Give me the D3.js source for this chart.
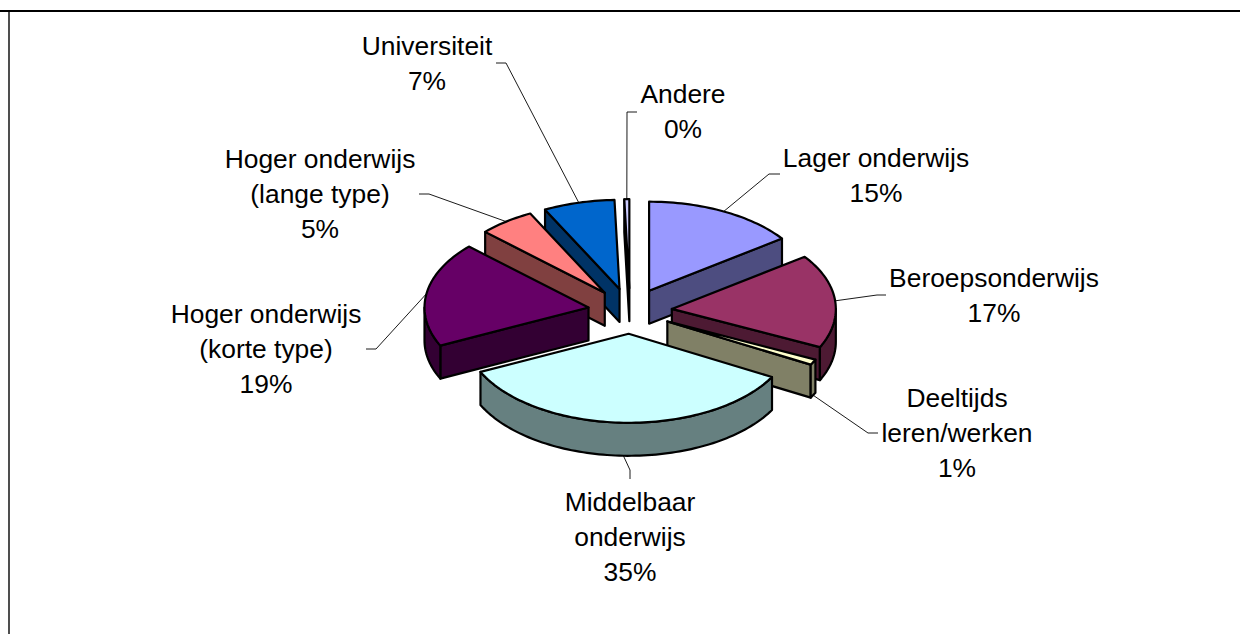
<!DOCTYPE html>
<html>
<head>
<meta charset="utf-8">
<script src="https://cdnjs.cloudflare.com/ajax/libs/d3/7.8.5/d3.min.js"></script>
<style>
  html, body { margin: 0; padding: 0; background: #fff; }
  svg { display: block; }
  text { font-family: "Liberation Sans", Arial, sans-serif; font-size: 26.4px; fill: #000; }
</style>
</head>
<body>
<svg></svg>
<script>
const categories = ['Lager onderwijs', 'Beroepsonderwijs', 'Deeltijds leren/werken', 'Middelbaar onderwijs',
  'Hoger onderwijs (korte type)', 'Hoger onderwijs (lange type)', 'Universiteit', 'Andere'];
const shares = [15.0, 17.0, 1.0, 34.8, 19.0, 5.49, 7.0, 0.49];
const labelLines = [
  ['Lager onderwijs'],
  ['Beroepsonderwijs'],
  ['Deeltijds', 'leren/werken'],
  ['Middelbaar', 'onderwijs'],
  ['Hoger onderwijs', '(korte type)'],
  ['Hoger onderwijs', '(lange type)'],
  ['Universiteit'],
  ['Andere']
];
const palette = ['#9999ff', '#993366', '#ffffcc', '#ccffff', '#660066', '#ff8080', '#0066cc', '#ccccff'];

// where each label sits: centre x, first baseline, then the elbow and the free end of its leader
const labelPos = [
  { x: 876, y: 167, elbow: [769, 174], end: [780, 174] },
  { x: 994, y: 287, elbow: [877, 295], end: [886, 295] },
  { x: 957, y: 407, elbow: [868, 433], end: [878, 433] },
  { x: 630, y: 511, elbow: [630, 470], end: [630, 479] },
  { x: 266, y: 323, elbow: [376, 349], end: [366, 349] },
  { x: 320, y: 168, elbow: [429, 194], end: [419, 194] },
  { x: 427, y: 55, elbow: [506, 63], end: [496, 63] },
  { x: 683, y: 103, elbow: [627, 112], end: [637, 112] }
];
const drawOrder = [7, 6, 5, 0, 4, 1, 2, 3];

const width = 1240,
    height = 634,
    cx = 630,
    cy = 311,
    rx = 164,
    ry = 89,
    depth = 33,
    explode = 42,
    lineHeight = 35;

const svg = d3.select('svg')
    .attr('width', width)
    .attr('height', height);

svg.append('line').attr('x1', 0).attr('x2', width).attr('y1', 11).attr('y2', 11)
    .attr('stroke', '#000').attr('stroke-width', 2);
svg.append('line').attr('x1', 9).attr('x2', 9).attr('y1', 12).attr('y2', height)
    .attr('stroke', '#222').attr('stroke-width', 1.6);

const color = d3.scaleOrdinal().domain(categories).range(palette);
const arcs = d3.pie().sort(null).value(d => d)(shares);
const line = d3.line();

function origin(d) {
  const mid = (d.startAngle + d.endAngle) / 2;
  return [cx + explode * Math.sin(mid), cy - explode * (ry / rx) * Math.cos(mid)];
}

function rim(d, a, drop = 0) {
  const o = origin(d);
  return [o[0] + rx * Math.sin(a), o[1] - ry * Math.cos(a) + drop];
}

function arcPoints(d, a0, a1, drop = 0) {
  const n = Math.max(2, Math.ceil((a1 - a0) * 40));
  return d3.range(n + 1).map(i => rim(d, a0 + (a1 - a0) * i / n, drop));
}

function radialWall(d, a) {
  const o = origin(d);
  return [o, rim(d, a), rim(d, a, depth), [o[0], o[1] + depth]];
}

function dim(c) {
  const rgb = d3.rgb(c);
  return d3.rgb(rgb.r / 2, rgb.g / 2, rgb.b / 2).formatHex();
}

const slices = svg.append('g')
    .selectAll('g')
    .data(drawOrder.map(i => ({ arc: arcs[i], name: categories[i] })))
    .enter()
    .append('g')
    .attr('stroke', '#000')
    .attr('stroke-width', 2.2)
    .attr('stroke-linejoin', 'round');

slices.each(function(s) {
  const g = d3.select(this),
      d = s.arc,
      top = color(s.name),
      side = dim(top);

  // side faces turned to the viewer, then the rim, then the lid
  if (d.startAngle > Math.PI) {
    g.append('path').attr('d', line(radialWall(d, d.startAngle)) + 'Z').attr('fill', side);
  }
  if (d.endAngle < Math.PI) {
    g.append('path').attr('d', line(radialWall(d, d.endAngle)) + 'Z').attr('fill', side);
  }
  const a0 = Math.max(d.startAngle, Math.PI / 2),
      a1 = Math.min(d.endAngle, Math.PI * 1.5);
  if (a1 > a0) {
    const pts = arcPoints(d, a0, a1).concat(arcPoints(d, a0, a1, depth).reverse());
    g.append('path').attr('d', line(pts) + 'Z').attr('fill', side);
  }
  const lid = [origin(d)].concat(arcPoints(d, d.startAngle, d.endAngle));
  g.append('path').attr('d', line(lid) + 'Z').attr('fill', top);
});

// leaders run from the middle of each slice's rim to the label
const leaders = svg.append('g')
    .attr('fill', 'none')
    .attr('stroke', '#000')
    .attr('stroke-width', 0.9);

arcs.forEach((d, i) => {
  const mid = (d.startAngle + d.endAngle) / 2,
      front = Math.cos(mid) < -0.3,
      from = rim(d, mid, front ? depth : 0),
      p = labelPos[i];
  leaders.append('path').attr('d', line([from, p.elbow, p.end]));
});

const percent = d3.format('.0%');

const labels = svg.append('g')
    .selectAll('text')
    .data(arcs)
    .enter()
    .append('text')
    .attr('text-anchor', 'middle')
    .attr('y', (d, i) => labelPos[i].y);

labels.selectAll('tspan')
    .data((d, i) => labelLines[i].concat(percent(shares[i] / 100)).map(t => ({ t, x: labelPos[i].x })))
    .enter()
    .append('tspan')
    .attr('x', d => d.x)
    .attr('dy', (d, j) => j === 0 ? 0 : lineHeight)
    .text(d => d.t);
</script>
</body>
</html>
